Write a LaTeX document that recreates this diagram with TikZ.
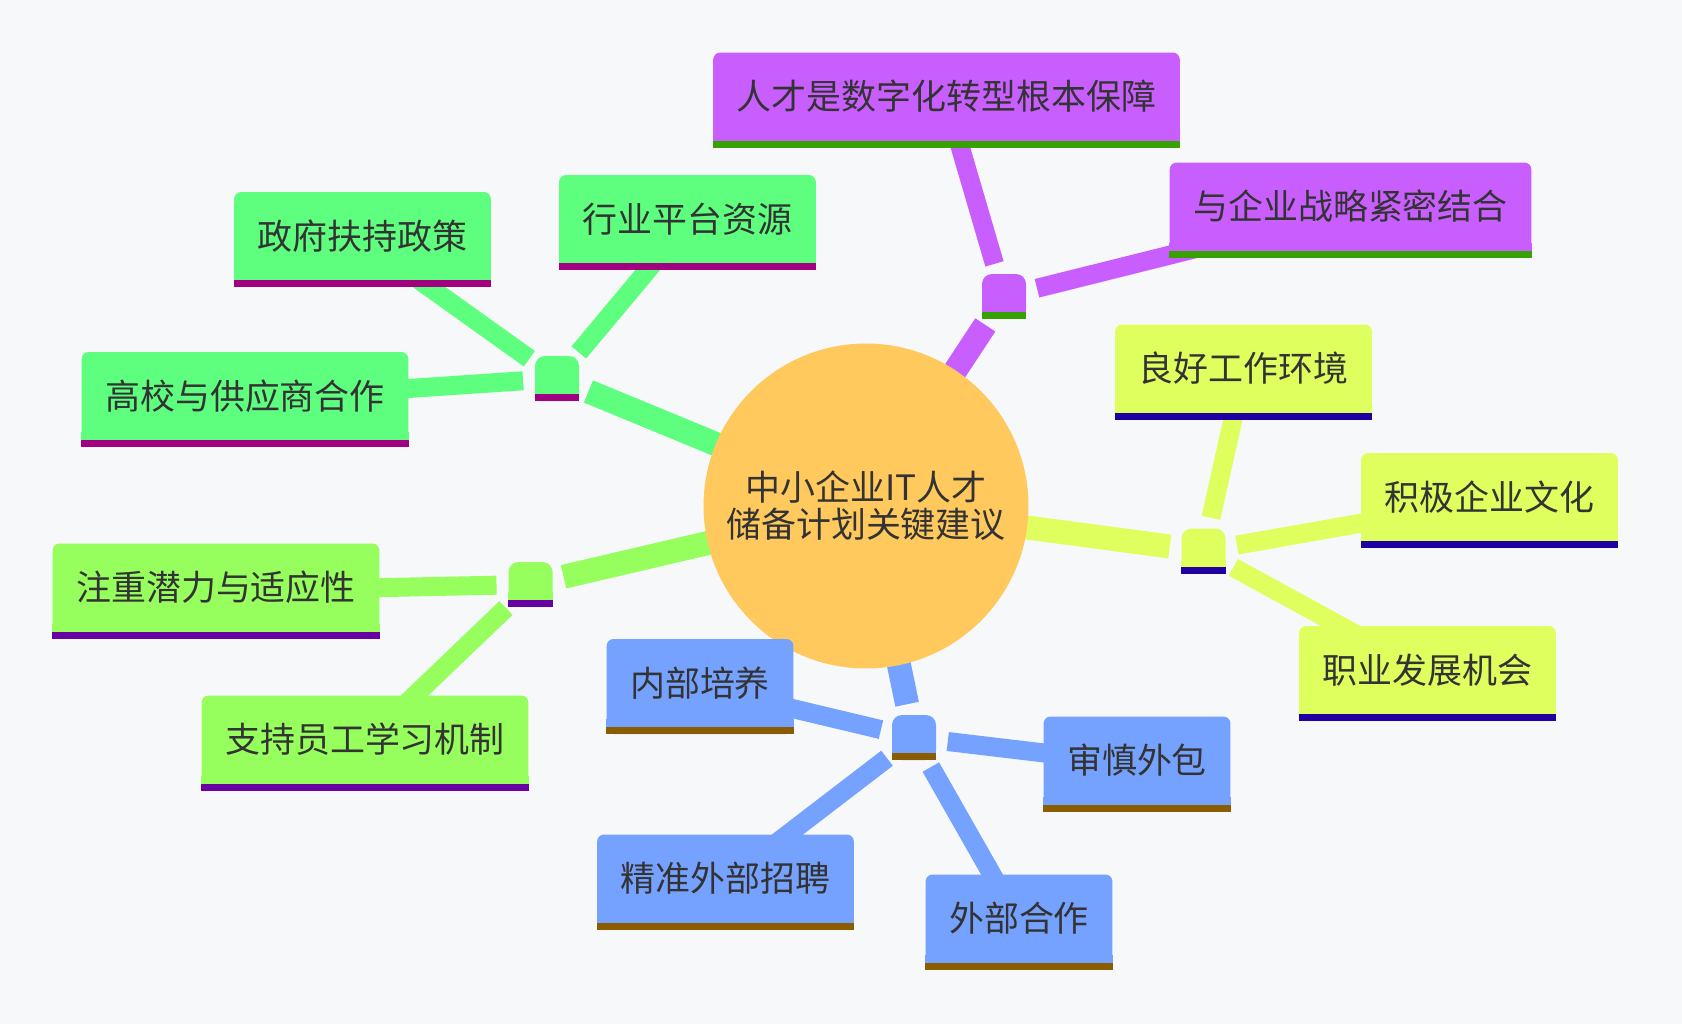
\documentclass[tikz,border=0pt]{standalone}
\usepackage{fontspec}
\setmainfont{Noto Sans CJK SC}
\usetikzlibrary{positioning,backgrounds}

\definecolor{bgc}{HTML}{F7F8FA}
\definecolor{txt}{HTML}{333333}
\definecolor{rootc}{HTML}{FFC95E}
\definecolor{purpleA}{HTML}{C95EFF}
\definecolor{purpleB}{HTML}{36A100}
\definecolor{greenA}{HTML}{5EFF7F}
\definecolor{greenB}{HTML}{A10080}
\definecolor{limeA}{HTML}{96FF5E}
\definecolor{limeB}{HTML}{6900A1}
\definecolor{yellowA}{HTML}{DFFF5E}
\definecolor{yellowB}{HTML}{2000A1}
\definecolor{blueA}{HTML}{76A2FF}
\definecolor{blueB}{HTML}{895D00}

\tikzset{
  leaf/.style={rounded corners=0.14cm, inner xsep=0.47cm, inner ysep=0pt,
    minimum height=1.9cm, text height=0.616cm, text depth=0.224cm,
    text=txt, font=\fontsize{19.9pt}{21pt}\selectfont},
  hub/.style={rounded corners=0.2cm, inner sep=0pt,
    minimum width=0.88cm, minimum height=0.9cm},
  trunk/.style={line width=0.48cm, shorten >=0.68cm},
  twig/.style={line width=0.38cm, shorten <=0.68cm},
}

\begin{document}
\begin{tikzpicture}[x=0.02cm, y=-0.02cm]
  \useasboundingbox (0,0) rectangle (1682,1024);
  \begin{scope}[on background layer]
    \fill[bgc] (0,0) rectangle (1682,1024);
  \end{scope}

  % centre
  \node[circle, fill=rootc, minimum size=6.5cm, inner sep=0pt, align=center,
        text=txt, font=\fontsize{19.9pt}{21pt}\selectfont] (root) at (866,506)
        {中小企业IT人才\\储备计划关键建议};

  % hubs
  \node[hub, fill=purpleA] (psub) at (1004,296.5) {};
  \node[hub, fill=yellowA] (ysub) at (1203.5,551) {};
  \node[hub, fill=greenA] (gsub) at (557,378.5) {};
  \node[hub, fill=limeA] (lsub) at (530.5,584.5) {};
  \node[hub, fill=blueA] (bsub) at (914,737.5) {};

  % leaves
  \node[leaf, fill=purpleA] (p1) at (946.5,100) {人才是数字化转型根本保障};
  \node[leaf, fill=purpleA] (p2) at (1350.5,210) {与企业战略紧密结合};
  \node[leaf, fill=yellowA] (y1) at (1243.5,372) {良好工作环境};
  \node[leaf, fill=yellowA] (y2) at (1489.5,500.5) {积极企业文化};
  \node[leaf, fill=yellowA] (y3) at (1427.5,673.5) {职业发展机会};
  \node[leaf, fill=greenA] (g1) at (687.5,222.5) {行业平台资源};
  \node[leaf, fill=greenA] (g2) at (362.5,239.5) {政府扶持政策};
  \node[leaf, fill=greenA] (g3) at (245,399.5) {高校与供应商合作};
  \node[leaf, fill=limeA] (l1) at (216,591) {注重潜力与适应性};
  \node[leaf, fill=limeA] (l2) at (365,743) {支持员工学习机制};
  \node[leaf, fill=blueA] (b1) at (700,686.5) {内部培养};
  \node[leaf, fill=blueA] (b2) at (1137,764) {审慎外包};
  \node[leaf, fill=blueA] (b3) at (725.5,882) {精准外部招聘};
  \node[leaf, fill=blueA] (b4) at (1019,922) {外部合作};

  % bottom strips
  \foreach \n/\fc/\sc in {psub/purpleA/purpleB, p1/purpleA/purpleB, p2/purpleA/purpleB,
      ysub/yellowA/yellowB, y1/yellowA/yellowB, y2/yellowA/yellowB, y3/yellowA/yellowB,
      gsub/greenA/greenB, g1/greenA/greenB, g2/greenA/greenB, g3/greenA/greenB,
      lsub/limeA/limeB, l1/limeA/limeB, l2/limeA/limeB,
      bsub/blueA/blueB, b1/blueA/blueB, b2/blueA/blueB, b3/blueA/blueB, b4/blueA/blueB} {
    \fill[\fc] ([yshift=0.14cm]\n.south west) rectangle ([yshift=0.3cm]\n.south east);
    \fill[\sc] (\n.south west) rectangle ([yshift=0.14cm]\n.south east);
  }

  % connectors
  \begin{scope}[on background layer]
    \foreach \s/\c in {psub/purpleA, ysub/yellowA, gsub/greenA, lsub/limeA, bsub/blueA}
      \draw[trunk, \c] (root.center) -- (\s.center);
    \foreach \s/\l/\c in {psub/p1/purpleA, psub/p2/purpleA,
        ysub/y1/yellowA, ysub/y2/yellowA, ysub/y3/yellowA,
        gsub/g1/greenA, gsub/g2/greenA, gsub/g3/greenA,
        lsub/l1/limeA, lsub/l2/limeA,
        bsub/b1/blueA, bsub/b2/blueA, bsub/b3/blueA, bsub/b4/blueA}
      \draw[twig, \c] (\s.center) -- (\l.center);
  \end{scope}
\end{tikzpicture}
\end{document}
